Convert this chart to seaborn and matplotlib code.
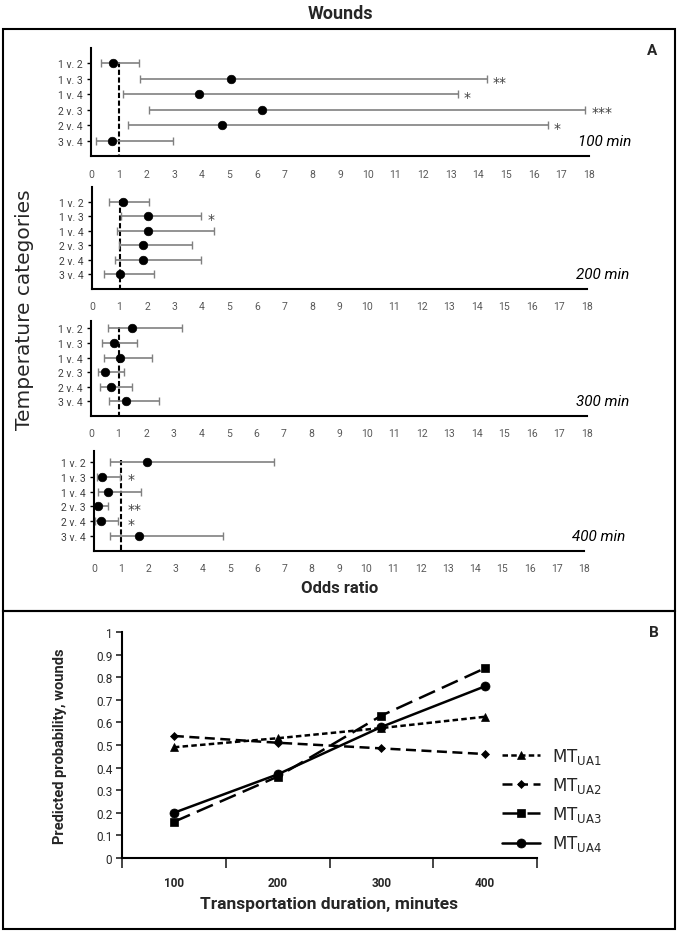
import numpy as np
import pandas as pd
import matplotlib
matplotlib.use('Agg')
import matplotlib.pyplot as plt
from matplotlib.patches import Rectangle
import seaborn as sns

# Panel A: odds ratios with 95% CI per temperature comparison
comparisons = ['1 v. 2', '1 v. 3', '1 v. 4', '2 v. 3', '2 v. 4', '3 v. 4']
durations_a = ['100 min', '200 min', '300 min', '400 min']

or_100 = [0.80, 5.05, 3.90, 6.18, 4.73, 0.77]
lo_100 = [0.36, 1.76, 1.15, 2.09, 1.34, 0.19]
hi_100 = [1.73, 14.30, 13.25, 17.87, 16.50, 2.97]
stars_100 = ['', '**', '*', '***', '*', '']

or_200 = [1.12, 2.03, 2.03, 1.84, 1.84, 1.01]
lo_200 = [0.60, 1.04, 0.92, 0.97, 0.84, 0.44]
hi_200 = [2.06, 3.97, 4.43, 3.64, 3.97, 2.25]
stars_200 = ['', '*', '', '', '', '']

or_300 = [1.47, 0.82, 1.06, 0.52, 0.71, 1.26]
lo_300 = [0.60, 0.41, 0.47, 0.25, 0.33, 0.65]
hi_300 = [3.32, 1.66, 2.21, 1.18, 1.50, 2.48]
stars_300 = ['', '', '', '', '', '']

or_400 = [1.96, 0.31, 0.52, 0.16, 0.27, 1.64]
lo_400 = [0.57, 0.10, 0.14, 0.07, 0.04, 0.57]
hi_400 = [6.60, 0.96, 1.72, 0.53, 0.89, 4.73]
stars_400 = ['', '*', '', '**', '*', '']

or_ticks = list(range(0, 19))

# Panel B: predicted probability of wounds
durations_b = [100, 200, 300, 400]
mt_ua1 = [0.49, 0.53, 0.575, 0.625]
mt_ua2 = [0.54, 0.51, 0.485, 0.46]
mt_ua3 = [0.16, 0.36, 0.63, 0.84]
mt_ua4 = [0.20, 0.37, 0.58, 0.76]
series_names = [r'MT$_{\mathrm{UA1}}$', r'MT$_{\mathrm{UA2}}$', r'MT$_{\mathrm{UA3}}$', r'MT$_{\mathrm{UA4}}$']
prob_ticks = [0, 0.1, 0.2, 0.3, 0.4, 0.5, 0.6, 0.7, 0.8, 0.9, 1]

sns.set_style('white')
plt.rcParams['font.family'] = ['Roboto', 'DejaVu Sans']
plt.rcParams['mathtext.fontset'] = 'dejavusans'

W, H = 680, 937
fig = plt.figure(figsize=(W / 100, H / 100), dpi=100)


def rect(x0, y0, x1, y1):
    return [x0 / W, 1 - y1 / H, (x1 - x0) / W, (y1 - y0) / H]


# panel frames
fig.patches.append(Rectangle((3 / W, 1 - 612 / H), 672 / W, 582 / H, transform=fig.transFigure,
                             fill=False, lw=1.5, ec='black'))
fig.patches.append(Rectangle((3 / W, 1 - 930 / H), 672 / W, 318 / H, transform=fig.transFigure,
                             fill=False, lw=1.5, ec='black'))

panels = [
    (or_100, lo_100, hi_100, stars_100, (91, 49, 589, 157), 0.0),
    (or_200, lo_200, hi_200, stars_200, (92, 188, 587, 290), 0.0),
    (or_300, lo_300, hi_300, stars_300, (91, 322, 587, 417), 0.5),
    (or_400, lo_400, hi_400, stars_400, (94, 452, 584, 552), 0.27),
]

rows = np.arange(1, 7)
for (ors, los, his, stars, box, ytop), dur in zip(panels, durations_a):
    ax = fig.add_axes(rect(*box))
    ors = np.array(ors)
    los = np.array(los)
    his = np.array(his)
    ax.errorbar(ors, rows, xerr=[ors - los, his - ors], fmt='none', ecolor='#808080',
                elinewidth=1.2, capsize=3, capthick=1, zorder=2)
    sns.scatterplot(x=ors, y=rows, ax=ax, color='black', s=38, edgecolor='black', zorder=3)
    ax.plot([1, 1], [0.9, 7], color='black', lw=1.5, linestyle=(0, (2.5, 1.2)), zorder=1)
    for r, o, h, st in zip(rows, ors, his, stars):
        if st:
            ax.text(max(h, 1) + 0.22, r + 0.18, st, ha='left', va='center', fontsize=10,
                    color='#404040', family='DejaVu Sans')
    ax.set_xlim(0, 18)
    ax.set_ylim(7, ytop)
    ax.set_xticks(or_ticks)
    ax.set_yticks(rows)
    ax.set_yticklabels(comparisons)
    ax.tick_params(axis='x', length=0, pad=9, labelsize=7.5, labelcolor='#595959')
    ax.tick_params(axis='y', length=3, width=1, color='black', direction='out', left=True,
                   pad=3, labelsize=7.5, labelcolor='#404040')
    for s in ['top', 'right']:
        ax.spines[s].set_visible(False)
    for s in ['left', 'bottom']:
        ax.spines[s].set_linewidth(1.5)
        ax.spines[s].set_color('black')
    ax.text(1.085, 6, dur, transform=ax.get_yaxis_transform(), ha='right', va='center',
            fontsize=11, style='italic', color='black')
    ax.patch.set_alpha(0)

fig.text(340 / W, 1 - 14 / H, 'Wounds', ha='center', va='center', fontsize=13, weight='bold')
fig.text(652 / W, 1 - 51 / H, 'A', ha='center', va='center', fontsize=11, weight='bold')
fig.text(25 / W, 1 - 310 / H, 'Temperature categories', rotation=90, ha='center', va='center',
         fontsize=14.5, family='DejaVu Sans')
fig.text(340 / W, 1 - 589 / H, 'Odds ratio', ha='center', va='center', fontsize=12, weight='bold')

# Panel B
axb = fig.add_axes(rect(122, 633, 537, 859))
styles = [('^', (0, (2.2, 1.3))), ('D', (0, (4, 2.2))), ('s', (0, (7, 3))), ('o', '-')]
vals = [mt_ua1, mt_ua2, mt_ua3, mt_ua4]
msize = {'^': 6, 'D': 4.5, 's': 5.5, 'o': 6.5}
for v, name, (m, ls) in zip(vals, series_names, styles):
    sns.lineplot(x=durations_b, y=v, ax=axb, color='black', lw=1.8, linestyle=ls, marker=m,
                 markersize=msize[m], mec='black', mew=0.5, label=name)
axb.set_xlim(50, 450)
axb.set_ylim(0, 1)
axb.set_xticks([50, 150, 250, 350, 450])
axb.set_xticklabels([])
axb.set_xticks(durations_b, minor=True)
axb.set_xticklabels([str(d) for d in durations_b], minor=True, weight='bold', fontsize=8.5)
axb.tick_params(axis='x', which='major', length=7, width=1.2, direction='out', bottom=True)
axb.tick_params(axis='x', which='minor', length=0, pad=13)
axb.set_yticks(prob_ticks)
axb.set_yticklabels([f'{t:g}' for t in prob_ticks], fontsize=8.5)
axb.tick_params(axis='y', length=4, width=1.2, direction='out', left=True, pad=3)
for s in ['top', 'right']:
    axb.spines[s].set_visible(False)
for s in ['left', 'bottom']:
    axb.spines[s].set_linewidth(1.5)
    axb.spines[s].set_color('black')
axb.set_ylabel('Predicted probability, wounds', fontsize=10.5, weight='bold')
axb.yaxis.set_label_coords(-0.133, 0.5)
axb.set_xlabel('Transportation duration, minutes', fontsize=12.5, weight='bold', va='center')
axb.xaxis.set_label_coords(0.5, -0.2)
axb.patch.set_alpha(0)
leg = axb.legend(loc='upper left', bbox_to_anchor=(502 / W, 1 - 747 / H),
                 bbox_transform=fig.transFigure, frameon=False, handlelength=2.3,
                 borderpad=0, borderaxespad=0, labelspacing=0.55, handletextpad=0.7,
                 prop={'family': 'DejaVu Sans', 'size': 12})
fig.text(654 / W, 1 - 633 / H, 'B', ha='center', va='center', fontsize=11, weight='bold')

fig.savefig('out.png', dpi=100)
